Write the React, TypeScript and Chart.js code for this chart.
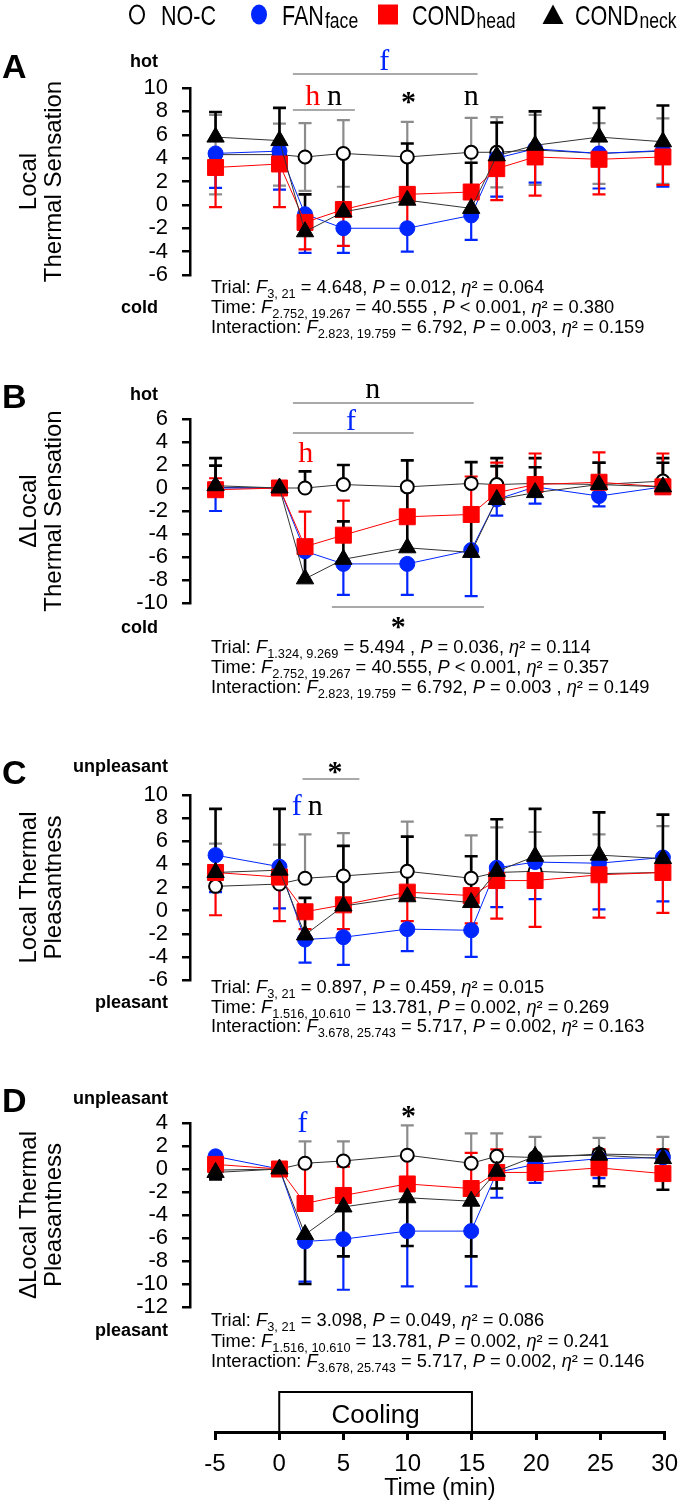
import React, { useEffect, useRef } from "react";
import { Chart, registerables } from "chart.js";

Chart.register(...registerables);

const SANS = '"Liberation Sans", Arial, Helvetica, sans-serif';
const SERIF = '"Liberation Serif", "Times New Roman", serif';
const BLUE = "#0026ff";
const RED = "#ff0000";
const GRAY = "#8c8c8c";
const BLACK = "#000000";

// Sampling times (min)
const TIME = [-5, 0, 2, 5, 10, 15, 17, 20, 25, 30];
const SERIES = ["NO-C", "FAN_face", "COND_head", "COND_neck"];

// A: Local thermal sensation (mean, SD)
const A_NOC = [4.3, 4.3, 4.1, 4.4, 4.1, 4.5, 4.5, 4.7, 4.4, 4.6];
const A_NOC_SD = [3.4, 2.65, 2.9, 2.85, 3.0, 2.95, 3.0, 3.0, 2.6, 2.8];
const A_FAN = [4.4, 4.6, -0.8, -2.0, -2.0, -0.9, 4.0, 4.8, 4.4, 4.65];
const A_FAN_SD = [2.95, 3.3, 3.3, 2.1, 2.0, 2.1, 3.3, 2.9, 3.0, 3.1];
const A_HEAD = [3.2, 3.5, -1.5, -0.4, 0.9, 1.1, 3.1, 4.1, 3.9, 4.1];
const A_HEAD_SD = [3.4, 3.7, 2.3, 3.1, 2.8, 2.0, 2.7, 3.3, 3.0, 2.4];
const A_NECK = [5.8, 5.5, -2.3, -0.6, 0.4, -0.3, 4.2, 5.1, 5.8, 5.4];
const A_NECK_SD = [2.15, 2.8, 3.2, 4.8, 4.85, 3.9, 2.85, 2.9, 2.5, 3.1];

// B: change in local thermal sensation
const B_NOC = [0.05, 0, 0, 0.3, 0.1, 0.4, 0.3, 0.4, 0.3, 0.6];
const B_NOC_SD = [1.9, 0, 1.45, 1.7, 2.3, 1.85, 2.3, 2.2, 1.9, 2.0];
const B_FAN = [0, 0, -5.5, -6.6, -6.6, -5.4, -1.0, 0.1, -0.7, 0.1];
const B_FAN_SD = [2.0, 0, 2.5, 2.7, 2.7, 4.0, 1.4, 1.45, 0.9, 0.6];
const B_HEAD = [-0.15, 0, -5.1, -4.1, -2.5, -2.3, -0.4, 0.3, 0.5, 0.1];
const B_HEAD_SD = [1.0, 0, 3.05, 3.0, 2.5, 3.3, 2.6, 2.7, 2.6, 2.9];
const B_NECK = [0.2, 0, -7.9, -6.2, -5.2, -5.6, -1.0, -0.4, 0.3, 0.1];
const B_NECK_SD = [2.4, 0, 2.5, 3.3, 5.0, 3.0, 2.9, 2.2, 1.9, 2.1];

// C: local thermal pleasantness
const C_NOC = [2.1, 2.3, 2.8, 3.0, 3.4, 2.8, 3.3, 3.4, 3.2, 3.3];
const C_NOC_SD = [3.7, 3.4, 3.8, 3.7, 4.3, 3.7, 3.9, 3.4, 3.4, 4.0];
const C_FAN = [4.8, 3.8, -2.5, -2.3, -1.6, -1.7, 3.7, 4.2, 4.1, 4.6];
const C_FAN_SD = [3.2, 3.6, 2.0, 2.4, 1.9, 2.3, 3.4, 3.2, 4.0, 3.8];
const C_HEAD = [3.3, 2.9, -0.1, 0.5, 1.6, 1.3, 2.6, 2.6, 3.1, 3.3];
const C_HEAD_SD = [3.7, 3.8, 1.5, 2.1, 2.5, 2.4, 3.3, 4.0, 3.7, 3.5];
const C_NECK = [3.3, 3.5, -2.1, 0.4, 1.2, 0.7, 3.4, 4.7, 4.8, 4.5];
const C_NECK_SD = [5.5, 5.3, 3.2, 5.2, 5.2, 4.0, 4.5, 4.1, 3.7, 3.8];

// D: change in local thermal pleasantness
const D_NOC = [-0.1, 0, 0.5, 0.7, 1.2, 0.5, 1.1, 1.0, 1.3, 1.2];
const D_NOC_SD = [0.5, 0, 1.9, 1.7, 2.6, 2.6, 2.0, 1.8, 1.4, 1.6];
const D_FAN = [1.1, 0, -6.3, -6.1, -5.4, -5.4, -0.3, 0.4, 0.9, 1.0];
const D_FAN_SD = [1.9, 0, 3.5, 4.4, 4.8, 4.8, 2.2, 1.6, 1.7, 1.0];
const D_HEAD = [0.4, 0, -3.0, -2.3, -1.3, -1.7, -0.3, -0.3, 0.1, -0.4];
const D_HEAD_SD = [0.6, 0, 3.2, 2.5, 2.4, 3.1, 2.0, 1.2, 1.6, 2.1];
const D_NECK = [-0.3, 0, -5.7, -3.3, -2.5, -2.8, -0.2, 1.1, 1.2, 0.9];
const D_NECK_SD = [0.6, 0, 4.3, 4.3, 4.2, 4.8, 1.5, 1.4, 2.7, 2.7];

// Bottom time axis
const TIME_TICKS = [-5, 0, 5, 10, 15, 20, 25, 30];
const COOLING = [0, 15];

// ANOVA summaries: *...* italic, _..._ subscript
const STATS_A = [
  "Trial: *F*_3, 21_ = 4.648, *P* = 0.012, *η*² = 0.064",
  "Time: *F*_2.752, 19.267_ = 40.555 , *P* < 0.001, *η*² = 0.380",
  "Interaction: *F*_2.823, 19.759_ = 6.792, *P* = 0.003, *η*² = 0.159",
];
const STATS_B = [
  "Trial: *F*_1.324, 9.269_ = 5.494 , *P* = 0.036, *η*² = 0.114",
  "Time: *F*_2.752, 19.267_ = 40.555, *P* < 0.001, *η*² = 0.357",
  "Interaction: *F*_2.823, 19.759_ = 6.792, *P* = 0.003 , *η*² = 0.149",
];
const STATS_C = [
  "Trial: *F*_3, 21_ = 0.897, *P* = 0.459, *η*² = 0.015",
  "Time: *F*_1.516, 10.610_ = 13.781, *P* = 0.002, *η*² = 0.269",
  "Interaction: *F*_3.678, 25.743_ = 5.717, *P* = 0.002, *η*² = 0.163",
];
const STATS_D = [
  "Trial: *F*_3, 21_ = 3.098, *P* = 0.049, *η*² = 0.086",
  "Time: *F*_1.516, 10.610_ = 13.781, *P* = 0.002, *η*² = 0.241",
  "Interaction: *F*_3.678, 25.743_ = 5.717, *P* = 0.002, *η*² = 0.146",
];

type Dir = "up" | "down" | "both";
type Sig =
  | { kind: "line"; x0: number; x1: number; y: number }
  | { kind: "text"; text: string; x: number; y: number; color: string; bold?: boolean };

interface PanelCfg {
  top: number;
  height: number;
  areaTop: number;
  areaBottom: number;
  yMin: number;
  yMax: number;
  title: string[];
  letter: string;
  letterBase: number;
  hi: string;
  hiBase: number;
  lo: string;
  loBase: number;
  tagRight: number;
  means: number[][];
  sds: number[][];
  dirs: Dir[];
  errColors: string[];
  sig: Sig[];
  stats: string[];
  statsBase: number[];
  legend?: boolean;
}

const STYLE = [
  { shape: "circle", r: 6.5, fill: "#ffffff", stroke: BLACK, bw: 2, line: "#333333" },
  { shape: "circle", r: 7.5, fill: BLUE, stroke: BLUE, bw: 1, line: BLUE },
  { shape: "rect", r: 11.3, fill: RED, stroke: RED, bw: 1, line: RED },
  { shape: "triangle", r: 10, fill: BLACK, stroke: BLACK, bw: 1, line: "#333333" },
];

const PANELS: PanelCfg[] = [
  {
    top: 0, height: 345, areaTop: 88, areaBottom: 275, yMin: -6, yMax: 10,
    title: ["Local", "Thermal Sensation"],
    letter: "A", letterBase: 78, hi: "hot", hiBase: 67, lo: "cold", loBase: 313, tagRight: 158,
    means: [A_NOC, A_FAN, A_HEAD, A_NECK],
    sds: [A_NOC_SD, A_FAN_SD, A_HEAD_SD, A_NECK_SD],
    dirs: ["both", "down", "down", "up"],
    errColors: [GRAY, BLUE, RED, BLACK],
    sig: [
      { kind: "line", x0: 1.05, x1: 15.5, y: 74 },
      { kind: "text", text: "f", x: 8.2, y: 70, color: BLUE },
      { kind: "line", x0: 1.05, x1: 5.9, y: 110 },
      { kind: "text", text: "h", x: 2.6, y: 105, color: RED },
      { kind: "text", text: "n", x: 4.3, y: 105, color: BLACK },
      { kind: "text", text: "*", x: 10.1, y: 111, color: BLACK, bold: true },
      { kind: "text", text: "n", x: 15.0, y: 105, color: BLACK },
    ],
    stats: STATS_A, statsBase: [293, 313, 333], legend: true,
  },
  {
    top: 345, height: 355, areaTop: 419, areaBottom: 603, yMin: -10, yMax: 6,
    title: ["ΔLocal", "Thermal Sensation"],
    letter: "B", letterBase: 408, hi: "hot", hiBase: 400, lo: "cold", loBase: 633, tagRight: 158,
    means: [B_NOC, B_FAN, B_HEAD, B_NECK],
    sds: [B_NOC_SD, B_FAN_SD, B_HEAD_SD, B_NECK_SD],
    dirs: ["up", "down", "up", "up"],
    errColors: [BLACK, BLUE, RED, BLACK],
    sig: [
      { kind: "line", x0: 1.05, x1: 15.2, y: 403 },
      { kind: "text", text: "n", x: 7.3, y: 398, color: BLACK },
      { kind: "line", x0: 1.05, x1: 10.5, y: 433 },
      { kind: "text", text: "f", x: 5.6, y: 430, color: BLUE },
      { kind: "text", text: "h", x: 2.05, y: 462, color: RED },
      { kind: "line", x0: 4.1, x1: 16.0, y: 607 },
      { kind: "text", text: "*", x: 9.3, y: 636, color: BLACK, bold: true },
    ],
    stats: STATS_B, statsBase: [653, 673, 693],
  },
  {
    top: 700, height: 345, areaTop: 795, areaBottom: 980, yMin: -6, yMax: 10,
    title: ["Local Thermal", "Pleasantness"],
    letter: "C", letterBase: 784, hi: "unpleasant", hiBase: 772, lo: "pleasant", loBase: 1008, tagRight: 168,
    means: [C_NOC, C_FAN, C_HEAD, C_NECK],
    sds: [C_NOC_SD, C_FAN_SD, C_HEAD_SD, C_NECK_SD],
    dirs: ["up", "down", "down", "up"],
    errColors: [GRAY, BLUE, RED, BLACK],
    sig: [
      { kind: "line", x0: 1.8, x1: 6.25, y: 779 },
      { kind: "text", text: "*", x: 4.35, y: 781, color: BLACK, bold: true },
      { kind: "text", text: "f", x: 1.35, y: 815, color: BLUE },
      { kind: "text", text: "n", x: 2.8, y: 815, color: BLACK },
    ],
    stats: STATS_C, statsBase: [993, 1013, 1032],
  },
  {
    top: 1045, height: 335, areaTop: 1123, areaBottom: 1307, yMin: -12, yMax: 4,
    title: ["ΔLocal Thermal", "Pleasantness"],
    letter: "D", letterBase: 1112, hi: "unpleasant", hiBase: 1104, lo: "pleasant", loBase: 1336, tagRight: 168,
    means: [D_NOC, D_FAN, D_HEAD, D_NECK],
    sds: [D_NOC_SD, D_FAN_SD, D_HEAD_SD, D_NECK_SD],
    dirs: ["up", "down", "up", "down"],
    errColors: [GRAY, BLUE, RED, BLACK],
    sig: [
      { kind: "text", text: "f", x: 1.8, y: 1132, color: BLUE },
      { kind: "text", text: "*", x: 10.1, y: 1125, color: BLACK, bold: true },
    ],
    stats: STATS_D, statsBase: [1326, 1347, 1367],
  },
];

// Vertical error bars (one- or two-sided) drawn beneath the markers
const errorBars = {
  id: "errorBars",
  beforeDatasetsDraw(chart: any) {
    const ctx = chart.ctx;
    const ys = chart.scales.y;
    chart.data.datasets.forEach((ds: any, i: number) => {
      const meta = chart.getDatasetMeta(i);
      ctx.save();
      ctx.strokeStyle = ds.errColor;
      ctx.lineWidth = ds.errWidth;
      meta.data.forEach((pt: any, j: number) => {
        const s = ds.errors[j];
        if (!s) return;
        const m = ds.data[j].y;
        const ends = ds.errDir === "both" ? [m + s, m - s] : ds.errDir === "up" ? [m + s] : [m - s];
        for (const v of ends) {
          const yv = ys.getPixelForValue(v);
          ctx.beginPath();
          ctx.moveTo(pt.x, pt.y);
          ctx.lineTo(pt.x, yv);
          ctx.moveTo(pt.x - 6.5, yv);
          ctx.lineTo(pt.x + 6.5, yv);
          ctx.stroke();
        }
      });
      ctx.restore();
    });
  },
};

// Text squeezed horizontally to imitate a condensed face
function narrowText(ctx: CanvasRenderingContext2D, text: string, x: number, y: number, size: number, sx: number) {
  ctx.save();
  ctx.font = `${size}px ${SANS}`;
  const w = ctx.measureText(text).width * sx;
  ctx.translate(x, y);
  ctx.scale(sx, 1);
  ctx.textAlign = "left";
  ctx.fillText(text, 0, 0);
  ctx.restore();
  return w;
}

function drawRich(ctx: CanvasRenderingContext2D, src: string, x: number, y: number, size: number) {
  let italic = false;
  let sub = false;
  let buf = "";
  let cx = x;
  const flush = () => {
    if (!buf) return;
    const s = sub ? size * 0.7 : size;
    ctx.font = `${italic ? "italic " : ""}${s}px ${SANS}`;
    ctx.fillText(buf, cx, y + (sub ? size * 0.25 : 0));
    cx += ctx.measureText(buf).width;
    buf = "";
  };
  for (const ch of src) {
    if (ch === "*") { flush(); italic = !italic; }
    else if (ch === "_") { flush(); sub = !sub; }
    else buf += ch;
  }
  flush();
}

function drawLegend(ctx: CanvasRenderingContext2D) {
  const cy = 14.5;
  const label = (main: string, sub: string, x: number) => {
    ctx.fillStyle = BLACK;
    ctx.textBaseline = "alphabetic";
    const w = narrowText(ctx, main, x, 25, 28, 0.77);
    if (sub) narrowText(ctx, sub, x + w + 1, 28, 22, 0.8);
  };
  ctx.save();
  ctx.lineWidth = 2;
  ctx.strokeStyle = BLACK;
  ctx.fillStyle = "#ffffff";
  ctx.beginPath();
  ctx.ellipse(137, cy, 7, 9, 0, 0, Math.PI * 2);
  ctx.fill();
  ctx.stroke();
  label(SERIES[0], "", 161);
  ctx.fillStyle = BLUE;
  ctx.beginPath();
  ctx.ellipse(259, cy, 8, 10, 0, 0, Math.PI * 2);
  ctx.fill();
  label("FAN", "face", 282);
  ctx.fillStyle = RED;
  ctx.fillRect(378, cy - 10, 20, 20);
  label("COND", "head", 412);
  ctx.fillStyle = BLACK;
  ctx.beginPath();
  ctx.moveTo(553, cy - 10);
  ctx.lineTo(563.5, cy + 9.5);
  ctx.lineTo(542.5, cy + 9.5);
  ctx.closePath();
  ctx.fill();
  label("COND", "neck", 575);
  ctx.restore();
}

function makeDecor(cfg: PanelCfg) {
  return {
    id: "panelDecor",
    afterDraw(chart: any) {
      const ctx: CanvasRenderingContext2D = chart.ctx;
      const xs = chart.scales.x;
      const py = (v: number) => v - cfg.top;
      ctx.save();
      ctx.fillStyle = BLACK;
      ctx.textBaseline = "alphabetic";
      ctx.textAlign = "left";
      ctx.font = `bold 34px ${SANS}`;
      ctx.fillText(cfg.letter, 2, py(cfg.letterBase));
      ctx.font = `bold 18px ${SANS}`;
      ctx.textAlign = "right";
      ctx.fillText(cfg.hi, cfg.tagRight, py(cfg.hiBase));
      ctx.fillText(cfg.lo, cfg.tagRight, py(cfg.loBase));

      for (const s of cfg.sig) {
        if (s.kind === "line") {
          ctx.strokeStyle = GRAY;
          ctx.lineWidth = 1.5;
          ctx.beginPath();
          ctx.moveTo(xs.getPixelForValue(s.x0), py(s.y));
          ctx.lineTo(xs.getPixelForValue(s.x1), py(s.y));
          ctx.stroke();
        } else {
          ctx.fillStyle = s.color;
          ctx.textAlign = "center";
          ctx.font = `${s.bold ? "bold " : ""}30px ${SERIF}`;
          ctx.fillText(s.text, xs.getPixelForValue(s.x), py(s.y));
        }
      }

      ctx.fillStyle = BLACK;
      ctx.textAlign = "left";
      cfg.stats.forEach((line, i) => drawRich(ctx, line, 211, py(cfg.statsBase[i]), 18.3));
      if (cfg.legend) drawLegend(ctx);
      ctx.restore();
    },
  };
}

function Panel({ cfg }: { cfg: PanelCfg }) {
  const ref = useRef<HTMLCanvasElement>(null);
  useEffect(() => {
    const datasets = cfg.means.map((m, k) => ({
      label: SERIES[k],
      data: TIME.map((t, i) => ({ x: t, y: m[i] })),
      errors: cfg.sds[k],
      errDir: cfg.dirs[k],
      errColor: cfg.errColors[k],
      errWidth: cfg.errColors[k] === BLACK ? 2.6 : 2.2,
      borderColor: STYLE[k].line,
      borderWidth: 1,
      pointStyle: STYLE[k].shape,
      pointRadius: STYLE[k].r,
      pointBackgroundColor: STYLE[k].fill,
      pointBorderColor: STYLE[k].stroke,
      pointBorderWidth: STYLE[k].bw,
      order: 3 - k,
      tension: 0,
      fill: false,
    }));
    const chart = new Chart(ref.current as HTMLCanvasElement, {
      type: "line",
      data: { datasets } as any,
      options: {
        animation: false,
        responsive: false,
        devicePixelRatio: 1,
        layout: {
          padding: {
            left: 0,
            right: 2,
            top: cfg.areaTop - cfg.top,
            bottom: cfg.top + cfg.height - cfg.areaBottom,
          },
        },
        plugins: { legend: { display: false }, tooltip: { enabled: false } },
        scales: {
          x: { type: "linear", min: -7, max: 31, display: false },
          y: {
            min: cfg.yMin,
            max: cfg.yMax,
            ticks: { stepSize: 2, autoSkip: false, color: BLACK, font: { family: SANS, size: 22 }, padding: 14 },
            grid: { drawOnChartArea: false, color: BLACK, lineWidth: 2.5, tickLength: 8 },
            border: { display: true, color: BLACK, width: 2.5 },
            title: {
              display: true,
              text: cfg.title,
              color: BLACK,
              font: { family: SANS, size: 24, lineHeight: 1.05 },
              padding: { top: 17, bottom: 0 },
            },
            afterFit: (s: any) => {
              s.width = 190;
            },
          },
        },
      } as any,
      plugins: [errorBars, makeDecor(cfg)],
    });
    return () => chart.destroy();
  }, [cfg]);
  return (
    <canvas
      ref={ref}
      width={688}
      height={cfg.height}
      style={{ position: "absolute", left: 0, top: cfg.top, width: 688, height: cfg.height, display: "block" }}
    />
  );
}

const coolingBox = {
  id: "coolingBox",
  afterDraw(chart: any) {
    const ctx: CanvasRenderingContext2D = chart.ctx;
    const xs = chart.scales.x;
    const x0 = xs.getPixelForValue(COOLING[0]);
    const x1 = xs.getPixelForValue(COOLING[1]);
    const yb = chart.chartArea.bottom;
    ctx.save();
    ctx.strokeStyle = BLACK;
    ctx.lineWidth = 2;
    ctx.strokeRect(x0, 12, x1 - x0, yb - 12);
    ctx.fillStyle = BLACK;
    ctx.textAlign = "center";
    ctx.textBaseline = "alphabetic";
    ctx.font = `26px ${SANS}`;
    ctx.fillText("Cooling", (x0 + x1) / 2, 43);
    ctx.restore();
  },
};

function TimeAxis() {
  const ref = useRef<HTMLCanvasElement>(null);
  useEffect(() => {
    const chart = new Chart(ref.current as HTMLCanvasElement, {
      type: "line",
      data: { datasets: [] },
      options: {
        animation: false,
        responsive: false,
        devicePixelRatio: 1,
        layout: { padding: { left: 215, right: 16, top: 0, bottom: 0 } },
        plugins: { legend: { display: false }, tooltip: { enabled: false } },
        scales: {
          x: {
            type: "linear",
            position: "bottom",
            min: TIME_TICKS[0],
            max: TIME_TICKS[TIME_TICKS.length - 1],
            afterBuildTicks: (s: any) => {
              s.ticks = TIME_TICKS.map((v) => ({ value: v }));
            },
            ticks: { color: BLACK, font: { family: SANS, size: 24 }, padding: 10, maxRotation: 0, autoSkip: false },
            grid: { drawOnChartArea: false, color: BLACK, lineWidth: 3, tickLength: 8 },
            border: { display: true, color: BLACK, width: 3 },
            title: {
              display: true,
              text: "Time (min)",
              color: BLACK,
              font: { family: SANS, size: 23.5 },
              padding: { top: 0, bottom: 2 },
            },
            afterFit: (s: any) => {
              s.height = 73;
            },
          },
          y: { display: false, min: 0, max: 1 },
        },
      } as any,
      plugins: [coolingBox],
    });
    return () => chart.destroy();
  }, []);
  return (
    <canvas
      ref={ref}
      width={688}
      height={125}
      style={{ position: "absolute", left: 0, top: 1380, width: 688, height: 125, display: "block" }}
    />
  );
}

export default function App() {
  return (
    <div style={{ position: "absolute", left: 0, top: 0, width: 688, height: 1505, background: "#ffffff", overflow: "hidden" }}>
      {PANELS.map((p) => (
        <Panel key={p.letter} cfg={p} />
      ))}
      <TimeAxis />
    </div>
  );
}
